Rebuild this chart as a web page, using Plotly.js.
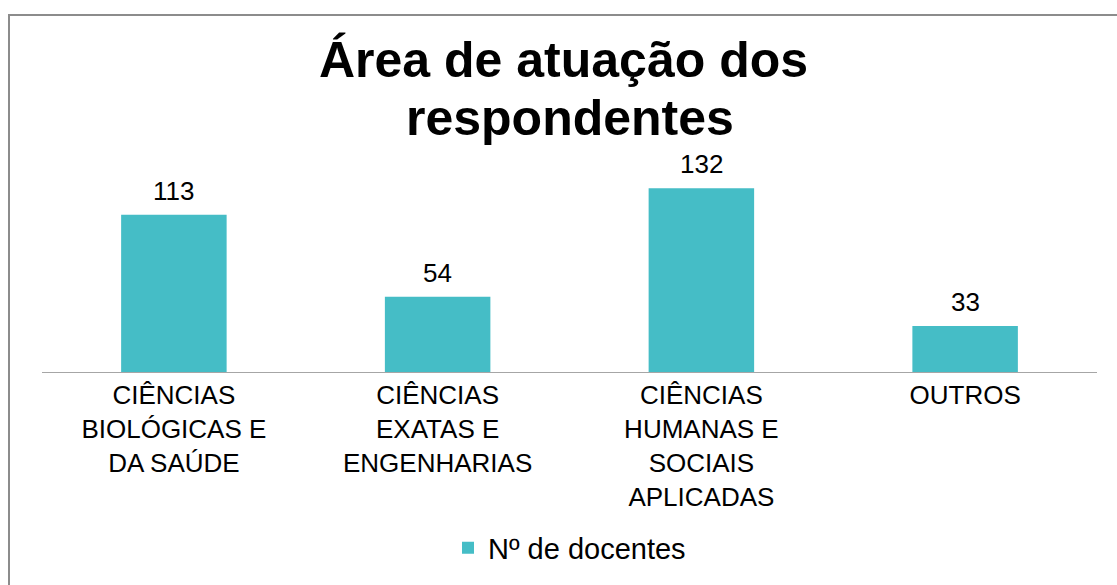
<!DOCTYPE html>
<html>
<head>
<meta charset="utf-8">
<script src="https://cdn.plot.ly/plotly-3.0.1.min.js"></script>
<style>
    html, body { margin: 0; padding: 0; width: 1117px; height: 585px; overflow: hidden; background: #fff; }
    #frame {
        position: absolute; left: 8px; top: 14px;
        width: 1109px; height: 571px;
        border-left: 2px solid #8c8c8c; border-top: 2px solid #8c8c8c;
        box-sizing: border-box;
    }
    #chart { width: 1107px; height: 569px; }
</style>
</head>
<body>
<div id="frame"><div id="chart"></div></div>
<script>
// Área de atuação dos respondentes
const tituloLinhas = ['Área de atuação dos', 'respondentes'];
const categorias = [
    'CIÊNCIAS<br>BIOLÓGICAS E<br>DA SAÚDE',
    'CIÊNCIAS<br>EXATAS E<br>ENGENHARIAS',
    'CIÊNCIAS<br>HUMANAS E<br>SOCIAIS<br>APLICADAS',
    'OUTROS'
];
const docentes = [113, 54, 132, 33];
const nomeSerie = 'Nº de docentes';

document.addEventListener('DOMContentLoaded', function() {
    const fonte = 'Liberation Sans, Arial, sans-serif';

    const trace = {
        type: 'bar',
        x: categorias,
        y: docentes,
        name: nomeSerie,
        marker: { color: '#45bdc6' },
        hoverinfo: 'x+y'
    };

    // rótulos de valor acima das barras
    const rotulos = categorias.map((c, i) => ({
        x: c,
        y: docentes[i],
        text: String(docentes[i]),
        showarrow: false,
        yanchor: 'bottom',
        yshift: 7,
        font: { family: fonte, size: 26, color: '#000' }
    }));

    // segunda linha do título (espaçamento menor que o <br> do plotly)
    rotulos.push({
        xref: 'paper', yref: 'paper',
        x: 0.5, y: 1.087,
        xanchor: 'center', yanchor: 'bottom',
        text: '<b>' + tituloLinhas[1] + '</b>',
        showarrow: false,
        font: { family: fonte, size: 50, color: '#000' }
    });

    const layout = {
        width: 1107,
        height: 569,
        margin: { l: 32, r: 20, t: 150, b: 213 },
        title: {
            text: '<b>' + tituloLinhas[0] + '</b>',
            font: { family: fonte, size: 50, color: '#000' },
            x: 0.5,
            xanchor: 'center',
            yref: 'container',
            y: 0.955,
            yanchor: 'top'
        },
        xaxis: {
            showline: true,
            linecolor: '#a6a6a6',
            linewidth: 1,
            ticks: '',
            tickfont: { family: fonte, size: 26, color: '#000' }
        },
        yaxis: {
            range: [0, 148],
            showgrid: false,
            zeroline: false,
            showticklabels: false
        },
        bargap: 0.6,
        showlegend: true,
        legend: {
            orientation: 'h',
            x: 0.5,
            xanchor: 'center',
            yref: 'container',
            y: 0.065,
            yanchor: 'middle',
            font: { family: fonte, size: 29, color: '#000' }
        },
        annotations: rotulos,
        paper_bgcolor: '#fff',
        plot_bgcolor: '#fff'
    };

    Plotly.newPlot('chart', [trace], layout, { displayModeBar: false });
});
</script>
</body>
</html>
